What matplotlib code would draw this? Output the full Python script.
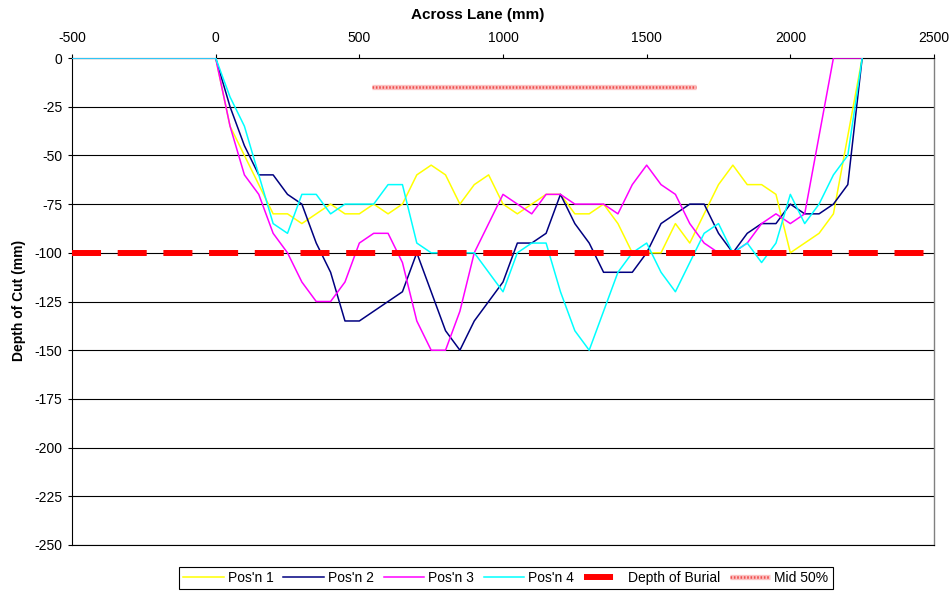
import matplotlib
matplotlib.use("Agg")
import matplotlib.pyplot as plt
from matplotlib.legend_handler import HandlerTuple

plt.rcParams['font.family'] = ['Liberation Sans', 'DejaVu Sans']
plt.rcParams['axes.unicode_minus'] = False
plt.rcParams['lines.scale_dashes'] = False

# ---- data ----
x_mm = [-500] + list(range(0, 2251, 50))

pos1 = [0,
        0, -35, -50, -65, -80, -80, -85, -80, -75, -80,
        -80, -75, -80, -75, -60, -55, -60, -75, -65, -60,
        -75, -80, -75, -70, -70, -80, -80, -75, -85, -100,
        -100, -100, -85, -95, -80, -65, -55, -65, -65, -70,
        -100, -95, -90, -80, -40, 0]
pos2 = [0,
        0, -25, -45, -60, -60, -70, -75, -95, -110, -135,
        -135, -130, -125, -120, -100, -120, -140, -150, -135, -125,
        -115, -95, -95, -90, -70, -85, -95, -110, -110, -110,
        -100, -85, -80, -75, -75, -90, -100, -90, -85, -85,
        -75, -80, -80, -75, -65, 0]
pos3 = [0,
        0, -35, -60, -70, -90, -100, -115, -125, -125, -115,
        -95, -90, -90, -105, -135, -150, -150, -130, -100, -85,
        -70, -75, -80, -70, -70, -75, -75, -75, -80, -65,
        -55, -65, -70, -85, -95, -100, -100, -95, -85, -80,
        -85, -80, -40, 0, 0, 0]
pos4 = [0,
        0, -20, -35, -60, -85, -90, -70, -70, -80, -75,
        -75, -75, -65, -65, -95, -100, -100, -100, -100, -110,
        -120, -100, -95, -95, -120, -140, -150, -130, -110, -100,
        -95, -110, -120, -105, -90, -85, -100, -95, -105, -95,
        -70, -85, -75, -60, -50, 0]

burial_x = [-500, 2500]
burial_y = [-100, -100]
mid_x = [545, 1670]
mid_y = [-15, -15]

series_names = ["Pos'n 1", "Pos'n 2", "Pos'n 3", "Pos'n 4"]
series_colors = ['#FFFF00', '#000080', '#FF00FF', '#00FFFF']

x_ticks = [-500, 0, 500, 1000, 1500, 2000, 2500]
y_ticks = [0, -25, -50, -75, -100, -125, -150, -175, -200, -225, -250]

# ---- figure ----
fig = plt.figure(figsize=(9.53, 5.95), dpi=100)
ax = fig.add_axes([72/953, 50/595, 862/953, 487/595])

for yv in y_ticks:
    ax.axhline(yv, color='black', lw=0.8, zorder=1)

handles = []
for vals, name, col in zip([pos1, pos2, pos3, pos4], series_names, series_colors):
    h, = ax.plot(x_mm, vals, color=col, lw=1.1, label=name, zorder=3)
    handles.append(h)

hb, = ax.plot(burial_x, burial_y, color='#FF0000', lw=4.3, dashes=(20.9, 12.0),
              solid_capstyle='butt', dash_capstyle='butt', zorder=4)
handles.append(hb)

hm1, = ax.plot(mid_x, mid_y, color='#FBC4C4', lw=3.8, solid_capstyle='butt', zorder=4)
hm2, = ax.plot(mid_x, mid_y, color='#F05050', lw=1.8, dashes=(1.2, 1.2),
               dash_capstyle='butt', zorder=5)
handles.append((hm1, hm2))

ax.set_xlim(-500, 2500)
ax.set_ylim(-250, 0)
ax.set_xticks(x_ticks)
ax.set_yticks(y_ticks)
ax.xaxis.tick_top()
ax.tick_params(axis='both', labelsize=10, length=3, width=0.8, direction='out', colors='black')
ax.tick_params(axis='x', pad=6)
ax.tick_params(axis='y', pad=4)

for s in ['left', 'top', 'bottom']:
    ax.spines[s].set_color('black')
    ax.spines[s].set_linewidth(0.8)
ax.spines['right'].set_color('#808080')
ax.spines['right'].set_linewidth(1.0)

fig.text(478/953, 1 - 15/595, 'Across Lane (mm)', ha='center', va='center',
         fontsize=11, fontweight='bold')
fig.text(19/953, 1 - 300/595, 'Depth of Cut (mm)', ha='center', va='center',
         rotation=90, fontsize=10, fontweight='bold')

labels = series_names + ['Depth of Burial', 'Mid 50%']
leg = fig.legend(handles, labels, loc='center', bbox_to_anchor=(506/953, 17/595),
                 ncol=6, fontsize=10, frameon=True, fancybox=False, edgecolor='black',
                 framealpha=1, handlelength=2.9, handletextpad=0.3, columnspacing=0.7,
                 borderpad=0.3, handler_map={tuple: HandlerTuple(ndivide=1, pad=0)})
leg.get_frame().set_linewidth(0.8)

fig.savefig('out.png', dpi=100)
